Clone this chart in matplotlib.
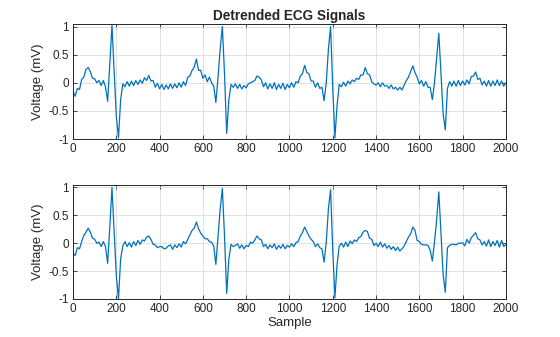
import matplotlib
matplotlib.use('Agg')
import matplotlib.pyplot as plt
import numpy as np

plt.rcParams['font.family'] = ['Liberation Sans', 'DejaVu Sans']
plt.rcParams['axes.unicode_minus'] = False

# sample index of every value below (one reading every 10 samples)
samples = np.arange(0, 2001, 10)

# detrended ECG, first channel (mV)
ecg_top = [
    -0.15, -0.24, -0.1, -0.12, 0.06, 0.1, 0.24, 0.27, 0.2, 0.08,
    0.07, 0.0, 0.04, -0.05, 0.04, -0.07, -0.33, 0.35, 1.02, 0.2,
    -0.6, -0.98, -0.3, -0.02, -0.07, 0.02, -0.06, 0.03, -0.05, 0.04,
    -0.03, 0.05, -0.01, 0.09, 0.04, 0.13, 0.03, 0.04, -0.08, -0.01,
    -0.11, -0.03, -0.12, -0.04, -0.11, -0.02, -0.1, -0.02, -0.09, 0.0,
    -0.08, 0.02, -0.05, 0.1, 0.12, 0.22, 0.28, 0.42, 0.22, 0.22,
    0.08, 0.14, 0.02, 0.1, 0.0, -0.06, -0.35, 0.1, 0.6, 1.0,
    0.15, -0.9, -0.3, -0.03, -0.08, -0.02, -0.1, -0.03, -0.11, -0.05,
    -0.09, -0.02, 0.0, 0.02, 0.04, 0.12, 0.1, 0.05, -0.07, 0.0,
    -0.11, -0.02, -0.1, 0.0, -0.12, -0.03, -0.1, -0.01, -0.12, -0.03,
    -0.09, 0.0, -0.08, 0.02, 0.0, 0.12, 0.16, 0.31, 0.18, 0.16,
    0.03, 0.03, -0.08, 0.0, -0.1, -0.08, -0.32, 0.0, 0.6, 1.0,
    -0.1, -0.98, -0.4, -0.03, -0.07, 0.01, -0.06, 0.03, -0.02, 0.05,
    0.02, 0.08, 0.06, 0.14, 0.14, 0.27, 0.16, 0.14, 0.02, -0.02,
    -0.04, 0.0, -0.07, 0.0, -0.06, -0.05, -0.1, -0.04, -0.11, -0.08,
    -0.13, -0.08, -0.13, -0.04, 0.04, 0.1, 0.2, 0.3, 0.18, 0.1,
    -0.02, 0.04, -0.06, 0.02, -0.08, -0.08, -0.3, 0.0, 0.45, 0.88,
    0.16, -0.55, -0.84, -0.1, 0.02, -0.06, 0.03, -0.06, 0.04, -0.05,
    0.03, -0.04, 0.05, -0.02, 0.11, 0.12, 0.19, 0.06, 0.08, -0.04,
    0.03, -0.06, 0.04, -0.06, 0.03, -0.05, 0.05, -0.05, 0.03, -0.06,
    0.0,
]

# detrended ECG, second channel (mV)
ecg_bottom = [
    -0.18, -0.22, -0.08, -0.1, 0.03, 0.14, 0.2, 0.27, 0.2, 0.09,
    0.07, 0.0, 0.02, -0.06, 0.03, -0.06, -0.36, 0.3, 1.0, 0.22,
    -0.58, -1.0, -0.28, -0.05, 0.03, -0.06, 0.01, -0.07, 0.03, -0.04,
    0.05, -0.02, 0.06, 0.04, 0.11, 0.13, 0.07, -0.02, -0.03, -0.08,
    -0.06, -0.06, -0.1, -0.09, -0.05, -0.03, -0.11, -0.03, -0.08, -0.01,
    -0.07, 0.03, -0.01, 0.07, 0.15, 0.23, 0.27, 0.38, 0.26, 0.18,
    0.13, 0.08, 0.08, 0.03, 0.02, -0.05, -0.38, 0.12, 0.62, 0.98,
    0.12, -0.9, -0.28, -0.02, -0.06, -0.04, -0.01, -0.09, -0.03, -0.1,
    -0.04, -0.06, 0.02, 0.0, 0.06, 0.13, 0.08, 0.06, -0.06, -0.02,
    -0.1, -0.03, -0.08, -0.01, -0.11, -0.04, -0.09, -0.02, -0.1, -0.04,
    -0.07, -0.01, -0.06, 0.01, 0.03, 0.13, 0.19, 0.29, 0.21, 0.13,
    0.07, 0.03, -0.06, -0.01, -0.08, -0.1, -0.34, 0.02, 0.62, 0.96,
    -0.12, -0.98, -0.38, -0.05, 0.0, -0.07, 0.02, -0.06, 0.04, -0.01,
    0.06, 0.03, 0.1, 0.12, 0.2, 0.23, 0.21, 0.09, 0.07, -0.04,
    0.0, -0.06, 0.02, -0.07, -0.01, -0.09, -0.04, -0.11, -0.06, -0.13,
    -0.07, -0.14, -0.1, -0.05, 0.03, 0.11, 0.17, 0.29, 0.23, 0.05,
    0.03, -0.02, -0.03, -0.03, -0.04, -0.12, -0.32, 0.02, 0.42, 0.92,
    0.18, -0.56, -0.88, -0.08, -0.04, -0.02, -0.02, -0.03, 0.0, 0.0,
    0.01, -0.05, 0.07, 0.0, 0.1, 0.14, 0.19, 0.08, 0.06, -0.03,
    0.03, -0.05, 0.06, -0.06, 0.03, -0.04, 0.05, -0.07, 0.05, -0.06,
    -0.02,
]

xticks = [0, 200, 400, 600, 800, 1000, 1200, 1400, 1600, 1800, 2000]
yticks = [-1, -0.5, 0, 0.5, 1]
yticklabels = ['-1', '-0.5', '0', '0.5', '1']

line_color = '#0072BD'
fig = plt.figure(figsize=(5.6, 3.37), dpi=100)
ax1 = fig.add_axes([0.1304, 0.5875, 0.773, 0.3405])
ax2 = fig.add_axes([0.1304, 0.1128, 0.773, 0.3375])

for ax, sig in [(ax1, ecg_top), (ax2, ecg_bottom)]:
    ax.plot(samples, sig, color=line_color, linewidth=0.9)
    ax.set_xlim(0, 2000)
    ax.set_ylim(-1, 1.04)
    ax.set_xticks(xticks)
    ax.set_yticks(yticks)
    ax.set_yticklabels(yticklabels)
    ax.grid(True, color='#dcdcdc', linewidth=0.6)
    ax.set_axisbelow(True)
    ax.tick_params(direction='in', length=3, width=0.6, top=True, right=True,
                   labelsize=8.5, colors='#262626', pad=3)
    for sp in ax.spines.values():
        sp.set_color('#262626')
        sp.set_linewidth(0.7)
    ax.set_ylabel('Voltage (mV)', fontsize=9.5, color='#262626', labelpad=3)

ax1.set_title('Detrended ECG Signals', fontsize=9.8, fontweight='bold',
              color='#262626', pad=3)
ax2.set_xlabel('Sample', fontsize=9.5, color='#262626', labelpad=1)

fig.savefig('out.png', dpi=100)
